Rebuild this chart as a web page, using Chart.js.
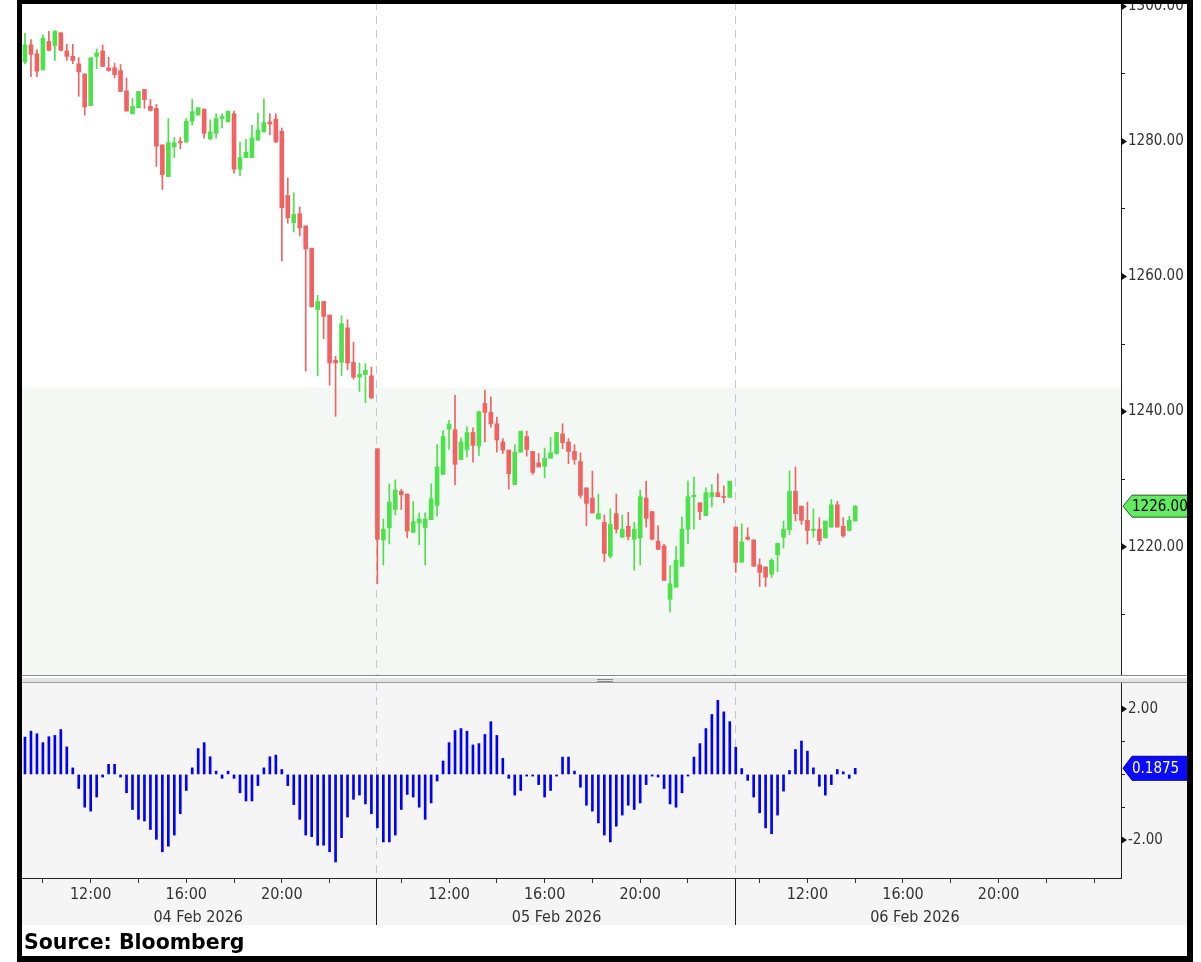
<!DOCTYPE html>
<html>
<head>
<meta charset="utf-8">
<script src="https://cdn.jsdelivr.net/npm/chart.js@4.4.1/dist/chart.umd.min.js"></script>
<style>
  html, body { margin: 0; padding: 0; background: #fff; }
  #wrap { position: relative; width: 1201px; height: 962px; overflow: hidden; background: #fff; }
  #frame { position: absolute; left: 17px; top: 0; width: 1176px; height: 962px; box-sizing: border-box;
           border-left: 5px solid #000; border-top: 4px solid #000; border-right: 6px solid #000; border-bottom: 6px solid #000;
           pointer-events: none; z-index: 5; }
  #c1 { position: absolute; left: 0; top: 0; }
  #c2 { position: absolute; left: 0; top: 678px; }
  #src { position: absolute; left: 24px; top: 930px; font: bold 20.5px 'DejaVu Sans', sans-serif; color: #000; z-index: 6; }
</style>
</head>
<body>
<div id="wrap">
  <canvas id="c1" width="1201" height="678"></canvas>
  <canvas id="c2" width="1201" height="284"></canvas>
  <div id="frame"></div>
  <div id="src">Source: Bloomberg</div>
</div>
<script>
// 15 minute candles, 04-06 Feb 2026
const days = ['04 Feb 2026', '05 Feb 2026', '06 Feb 2026'];
const dayFirstSlot = [1, 0, 0];   // slots after 09:00
const daySlots = [59, 60, 65];
const tickLabels = ['12:00', '16:00', '20:00'];
const dateUnder = '16:30';

const opens = [
  1291.8, 1294.3, 1293.0, 1290.6, 1294.8, 1294.2, 1296.1, 1293.4, 1292.6, 1291.5,
  1290.0, 1285.3, 1292.6, 1293.4, 1290.9, 1290.9, 1290.5, 1287.5, 1284.1, 1285.0,
  1287.7, 1285.2, 1284.9, 1279.5, 1274.8, 1279.2, 1280.0, 1279.9, 1283.0, 1283.9,
  1284.8, 1280.4, 1281.2, 1283.4, 1282.9, 1284.1, 1275.9, 1277.6, 1277.6, 1280.2,
  1281.4, 1282.9, 1283.3, 1281.5, 1272.0, 1268.0, 1269.3, 1267.5, 1264.2, 1255.1,
  1256.3, 1254.3, 1247.6, 1247.3, 1252.4, 1247.3, 1245.1, 1245.5, 1245.3, 1234.5,
  1221.0, 1222.8, 1225.5, 1228.2, 1227.8, 1222.1, 1223.5, 1222.8, 1224.0, 1226.1,
  1230.7, 1237.4, 1237.3, 1232.9, 1234.4, 1236.9, 1234.9, 1241.2, 1239.9, 1238.2,
  1235.5, 1234.3, 1229.2, 1234.0, 1236.3, 1234.1, 1232.4, 1231.9, 1233.1, 1233.8,
  1236.7, 1235.5, 1234.1, 1232.6, 1228.7, 1227.2, 1224.1, 1223.6, 1218.6, 1224.9,
  1221.4, 1223.0, 1221.1, 1221.3, 1227.2, 1225.2, 1220.8, 1220.1, 1212.2, 1214.0,
  1217.1, 1222.6, 1227.4, 1226.5, 1224.6, 1227.4, 1228.0, 1227.4, 1227.3, 1222.9,
  1217.7, 1221.4, 1221.0, 1217.3, 1217.0, 1215.9, 1218.8, 1221.4, 1222.5, 1228.2,
  1226.0, 1223.9, 1222.4, 1222.6, 1221.3, 1222.9, 1226.2, 1223.0, 1222.4, 1223.8
];
const highs = [
  1296.0, 1295.1, 1293.6, 1295.8, 1296.3, 1296.4, 1296.1, 1294.4, 1294.4, 1292.4,
  1290.0, 1292.4, 1293.7, 1294.3, 1292.5, 1291.6, 1291.4, 1289.4, 1286.4, 1287.4,
  1287.7, 1286.2, 1285.5, 1279.5, 1283.4, 1280.6, 1280.6, 1283.4, 1286.2, 1285.0,
  1284.8, 1283.2, 1284.1, 1284.1, 1284.5, 1284.5, 1279.9, 1280.3, 1282.4, 1284.2,
  1286.3, 1284.1, 1284.1, 1282.0, 1274.6, 1272.4, 1270.3, 1267.5, 1264.2, 1257.2,
  1256.3, 1254.3, 1248.2, 1254.2, 1253.6, 1250.3, 1247.2, 1247.1, 1246.6, 1234.5,
  1224.1, 1229.3, 1229.9, 1228.5, 1227.8, 1226.7, 1225.0, 1225.0, 1229.3, 1235.1,
  1237.2, 1238.7, 1242.4, 1236.1, 1237.8, 1237.6, 1240.0, 1243.2, 1242.2, 1239.2,
  1236.0, 1234.3, 1235.1, 1237.1, 1237.1, 1234.1, 1233.8, 1234.6, 1236.2, 1236.9,
  1238.2, 1236.0, 1235.1, 1233.9, 1228.7, 1231.2, 1227.8, 1224.7, 1225.6, 1227.8,
  1224.7, 1225.1, 1223.6, 1228.4, 1229.7, 1225.2, 1223.1, 1220.4, 1217.2, 1220.0,
  1224.4, 1229.7, 1230.3, 1226.5, 1228.7, 1229.2, 1230.8, 1229.0, 1229.7, 1222.9,
  1223.4, 1222.8, 1221.0, 1218.2, 1217.0, 1218.2, 1220.5, 1223.8, 1231.2, 1231.8,
  1226.0, 1226.6, 1225.6, 1224.3, 1223.8, 1227.0, 1226.7, 1224.3, 1224.5, 1226.1
];
const lows = [
  1291.5, 1289.6, 1289.6, 1290.6, 1293.4, 1292.0, 1293.4, 1292.0, 1291.5, 1286.7,
  1283.9, 1285.3, 1290.8, 1291.1, 1290.4, 1289.4, 1287.4, 1284.5, 1284.1, 1285.0,
  1284.9, 1284.5, 1276.3, 1272.9, 1274.8, 1277.6, 1278.9, 1279.9, 1282.4, 1283.9,
  1280.5, 1280.3, 1280.5, 1282.0, 1282.9, 1275.3, 1274.9, 1277.6, 1277.6, 1280.2,
  1281.4, 1281.0, 1279.9, 1262.3, 1267.9, 1266.6, 1266.0, 1246.0, 1255.5, 1245.3,
  1250.8, 1243.9, 1239.3, 1245.3, 1246.2, 1244.8, 1243.0, 1241.3, 1242.0, 1214.5,
  1217.3, 1220.4, 1224.7, 1225.5, 1221.3, 1222.1, 1220.3, 1217.3, 1224.0, 1224.5,
  1230.7, 1234.4, 1229.2, 1232.9, 1233.3, 1232.5, 1233.5, 1235.5, 1237.7, 1234.0,
  1233.8, 1228.5, 1229.2, 1234.0, 1233.4, 1230.7, 1231.8, 1230.2, 1233.1, 1233.7,
  1234.5, 1232.3, 1232.2, 1227.2, 1223.1, 1225.0, 1224.1, 1217.8, 1218.3, 1222.0,
  1221.4, 1221.0, 1216.5, 1217.3, 1222.9, 1221.0, 1219.6, 1215.0, 1210.3, 1214.0,
  1217.1, 1220.4, 1222.6, 1224.0, 1224.6, 1225.9, 1227.4, 1226.5, 1227.3, 1216.2,
  1217.7, 1221.0, 1217.1, 1214.1, 1214.1, 1215.4, 1216.3, 1219.8, 1221.8, 1223.8,
  1223.3, 1220.4, 1221.4, 1220.3, 1221.3, 1222.9, 1222.9, 1221.4, 1222.4, 1223.8
];
const closes = [
  1294.3, 1292.9, 1290.4, 1295.3, 1293.5, 1296.3, 1293.5, 1292.6, 1292.0, 1290.3,
  1285.1, 1292.4, 1293.1, 1291.1, 1290.5, 1289.9, 1287.4, 1284.5, 1285.2, 1287.4,
  1286.2, 1284.6, 1279.3, 1275.1, 1279.8, 1279.8, 1279.8, 1283.0, 1284.4, 1285.0,
  1281.2, 1281.4, 1283.4, 1283.7, 1284.5, 1275.9, 1277.6, 1278.4, 1280.5, 1281.7,
  1282.8, 1282.6, 1279.9, 1270.2, 1268.7, 1269.2, 1267.2, 1264.1, 1255.5, 1256.3,
  1254.1, 1247.2, 1247.2, 1253.0, 1247.2, 1245.1, 1245.5, 1246.1, 1242.0, 1221.1,
  1222.6, 1226.6, 1228.4, 1227.7, 1222.3, 1223.7, 1224.1, 1224.1, 1227.1, 1231.8,
  1236.3, 1238.1, 1232.2, 1235.5, 1236.9, 1235.0, 1240.0, 1239.9, 1238.2, 1235.8,
  1234.3, 1230.8, 1234.0, 1237.1, 1234.4, 1231.0, 1231.8, 1233.1, 1233.9, 1236.9,
  1235.4, 1234.1, 1232.9, 1227.6, 1226.4, 1225.0, 1224.9, 1219.0, 1223.3, 1222.6,
  1222.6, 1221.5, 1222.6, 1227.4, 1224.2, 1221.1, 1219.6, 1215.0, 1214.5, 1218.0,
  1222.6, 1227.4, 1227.6, 1225.2, 1228.0, 1228.0, 1227.4, 1227.3, 1229.7, 1217.7,
  1220.7, 1221.1, 1217.1, 1216.2, 1215.5, 1218.0, 1220.5, 1222.6, 1228.2, 1224.9,
  1223.9, 1222.4, 1222.6, 1220.9, 1223.8, 1226.2, 1222.9, 1221.6, 1223.9, 1226.0
];
// lower panel histogram
const osc = [
  1.14, 1.32, 1.24, 0.97, 1.15, 1.19, 1.37, 0.84, 0.20, -0.43,
  -1.00, -1.12, -0.69, -0.08, 0.31, 0.31, -0.08, -0.56, -1.07, -1.37,
  -1.42, -1.68, -1.98, -2.36, -2.19, -1.85, -1.20, -0.49, 0.20, 0.79,
  0.97, 0.54, 0.10, -0.12, 0.10, -0.12, -0.56, -0.81, -0.81, -0.34,
  0.20, 0.54, 0.59, 0.15, -0.34, -0.92, -1.37, -1.85, -1.90, -2.16,
  -2.16, -2.36, -2.67, -1.93, -1.30, -0.76, -0.63, -0.90, -1.20, -1.63,
  -2.06, -2.06, -1.85, -1.07, -0.61, -0.69, -1.00, -1.37, -0.87, -0.20,
  0.41, 0.97, 1.34, 1.40, 1.32, 0.90, 0.94, 1.22, 1.61, 1.19,
  0.49, -0.12, -0.63, -0.49, -0.05, -0.05, -0.31, -0.69, -0.49, -0.05,
  0.53, 0.53, 0.10, -0.39, -0.94, -1.12, -1.48, -1.85, -2.06, -1.58,
  -1.24, -0.94, -1.07, -0.87, -0.31, -0.05, -0.08, -0.43, -0.90, -1.00,
  -0.56, -0.05, 0.53, 0.94, 1.40, 1.83, 2.26, 1.91, 1.61, 0.83,
  0.18, -0.18, -0.69, -1.17, -1.63, -1.81, -1.24, -0.51, 0.12, 0.76,
  1.02, 0.71, 0.20, -0.36, -0.63, -0.31, 0.15, 0.08, -0.12, 0.1875
];
const priceTicks = [1210, 1220, 1230, 1240, 1250, 1260, 1270, 1280, 1290, 1300];
const priceMajor = [1220, 1240, 1260, 1280, 1300];
const oscTicks = [-2, -1, 0, 1, 2];
const oscMajor = [-2, 2];
const shadeTop = 1243.6;

const FONT = "'DejaVu Sans Condensed', 'Liberation Sans Narrow', 'DejaVu Sans', sans-serif";
const UP = '#4be24b';
const DOWN = '#f26262';
const EDGE = 1190; // inner edge of the black frame

// slot labels
const slotTimes = [];
const slotDays = [];
days.forEach((d, di) => {
  for (let k = dayFirstSlot[di]; k < dayFirstSlot[di] + daySlots[di]; k++) {
    const m = 9 * 60 + 15 * k;
    const h = Math.floor(m / 60) % 24;
    slotTimes.push(String(h).padStart(2, '0') + ':' + String(m % 60).padStart(2, '0'));
    slotDays.push(d);
  }
});
const dayBreaks = [];
for (let i = 1; i < slotDays.length; i++) {
  if (slotDays[i] !== slotDays[i - 1]) dayBreaks.push(i);
}
const isTwoHour = i => {
  const t = slotTimes[i];
  return t && t.endsWith(':00') && parseInt(t, 10) % 2 === 0 && !dayBreaks.includes(i);
};

const candleColor = closes.map((c, i) => (c >= opens[i] ? UP : DOWN));

function triangle(ctx, x, y) {
  ctx.beginPath();
  ctx.moveTo(x, y - 4);
  ctx.lineTo(x + 6, y);
  ctx.lineTo(x, y + 4);
  ctx.closePath();
  ctx.fill();
}

function tag(ctx, x, y, h, fill, stroke, color, text) {
  ctx.beginPath();
  ctx.moveTo(x, y);
  ctx.lineTo(x + 9, y - h / 2);
  ctx.lineTo(EDGE + 2, y - h / 2);
  ctx.lineTo(EDGE + 2, y + h / 2);
  ctx.lineTo(x + 9, y + h / 2);
  ctx.closePath();
  ctx.fillStyle = fill;
  ctx.fill();
  ctx.strokeStyle = stroke;
  ctx.lineWidth = 1;
  ctx.stroke();
  ctx.fillStyle = color;
  ctx.font = '15px ' + FONT;
  ctx.textBaseline = 'middle';
  ctx.textAlign = 'left';
  ctx.fillText(text, x + 9, y + 1);
}

function dashedBreaks(chart) {
  const { ctx, chartArea: a, scales: { x } } = chart;
  ctx.save();
  ctx.strokeStyle = '#c4c7d6';
  ctx.lineWidth = 1;
  ctx.setLineDash([8, 6]);
  dayBreaks.forEach(i => {
    const px = Math.round(x.getPixelForValue(i)) - 0.5;
    ctx.beginPath();
    ctx.moveTo(px, a.top);
    ctx.lineTo(px, a.bottom);
    ctx.stroke();
  });
  ctx.restore();
}

const pricePanel = {
  id: 'pricePanel',
  beforeDraw(chart) {
    const { ctx, chartArea: a, scales: { y } } = chart;
    const ys = y.getPixelForValue(shadeTop);
    ctx.save();
    ctx.fillStyle = '#ffffff';
    ctx.fillRect(0, 0, chart.width, chart.height);
    ctx.fillStyle = '#f4f8f4';
    ctx.fillRect(a.left, ys, a.right - a.left, a.bottom - ys);
    ctx.restore();
  },
  beforeDatasetsDraw: dashedBreaks,
  afterDraw(chart) {
    const { ctx, chartArea: a, scales: { y } } = chart;
    ctx.save();
    ctx.fillStyle = '#111';
    priceMajor.forEach(v => triangle(ctx, a.right, y.getPixelForValue(v)));
    ctx.strokeStyle = '#8c8c8c';
    ctx.beginPath();
    ctx.moveTo(a.left, a.bottom + 0.5);
    ctx.lineTo(EDGE, a.bottom + 0.5);
    ctx.stroke();
    const last = closes[closes.length - 1];
    tag(ctx, a.right + 2, y.getPixelForValue(last), 22, '#62ea62', '#2a5a2a', '#000', last.toFixed(2));
    ctx.restore();
  }
};

const oscPanel = {
  id: 'oscPanel',
  beforeDraw(chart) {
    const { ctx, chartArea: a, scales: { x } } = chart;
    ctx.save();
    ctx.fillStyle = '#ffffff';
    ctx.fillRect(0, 0, chart.width, chart.height);
    ctx.fillStyle = '#f5f5f5';
    ctx.fillRect(a.left, a.top, EDGE - a.left, x.bottom - a.top);
    // splitter between the panels
    ctx.fillStyle = '#e4e4e4';
    ctx.fillRect(a.left, 0, EDGE - a.left, a.top);
    ctx.strokeStyle = '#9a9a9a';
    ctx.beginPath();
    ctx.moveTo(a.left, a.top - 0.5);
    ctx.lineTo(EDGE, a.top - 0.5);
    ctx.stroke();
    ctx.strokeStyle = '#8a8a8a';
    const mid = 605;
    [1.5, 3.5].forEach(yy => {
      ctx.beginPath();
      ctx.moveTo(mid - 8, yy);
      ctx.lineTo(mid + 8, yy);
      ctx.stroke();
    });
    ctx.restore();
  },
  beforeDatasetsDraw: dashedBreaks,
  afterDraw(chart) {
    const { ctx, chartArea: a, scales: { x, y } } = chart;
    ctx.save();
    ctx.fillStyle = '#111';
    oscMajor.forEach(v => triangle(ctx, a.right, y.getPixelForValue(v)));
    ctx.strokeStyle = '#222';
    ctx.lineWidth = 1;
    dayBreaks.forEach(i => {
      const px = Math.round(x.getPixelForValue(i)) - 0.5;
      ctx.beginPath();
      ctx.moveTo(px, x.top);
      ctx.lineTo(px, x.bottom);
      ctx.stroke();
    });
    const last = osc[osc.length - 1];
    tag(ctx, a.right + 2, y.getPixelForValue(last), 24, '#0a0aff', '#0000aa', '#fff', String(last));
    ctx.restore();
  }
};

function yAxis(min, max, ticks, major, width) {
  return {
    position: 'right',
    min: min,
    max: max,
    afterBuildTicks(s) { s.ticks = ticks.map(v => ({ value: v })); },
    afterFit(s) { s.width = width; s.paddingTop = 0; s.paddingBottom = 0; },
    border: { display: true, color: '#222' },
    grid: { drawOnChartArea: false, tickLength: 4, color: '#222' },
    ticks: {
      padding: 3,
      color: '#333',
      font: { family: FONT, size: 15 },
      callback: v => (major.includes(v) ? v.toFixed(2) : '')
    }
  };
}

new Chart(document.getElementById('c1'), {
  type: 'bar',
  data: {
    labels: slotTimes,
    datasets: [
      {
        data: lows.map((l, i) => [l, highs[i]]),
        backgroundColor: candleColor,
        barThickness: 1,
        grouped: false,
        order: 2
      },
      {
        data: opens.map((o, i) => [o, closes[i]]),
        backgroundColor: candleColor,
        barThickness: 4,
        minBarLength: 1,
        grouped: false,
        order: 1
      }
    ]
  },
  options: {
    responsive: false,
    animation: false,
    events: [],
    layout: { padding: { left: 22, top: 2, right: 0, bottom: 3 } },
    plugins: { legend: { display: false }, tooltip: { enabled: false } },
    scales: {
      x: { display: false },
      y: yAxis(1201, 1300.65, priceTicks, priceMajor, 80)
    }
  },
  plugins: [pricePanel]
});

new Chart(document.getElementById('c2'), {
  type: 'bar',
  data: {
    labels: slotTimes,
    datasets: [{
      data: osc,
      backgroundColor: '#0000ff',
      barThickness: 2,
      minBarLength: 1
    }]
  },
  options: {
    responsive: false,
    animation: false,
    events: [],
    layout: { padding: { left: 22, top: 5, right: 0, bottom: 37 } },
    plugins: { legend: { display: false }, tooltip: { enabled: false } },
    scales: {
      x: {
        afterFit(s) { s.height = 47; s.paddingLeft = 0; s.paddingRight = 0; },
        border: { display: true, color: '#222' },
        grid: {
          offset: false,
          drawOnChartArea: false,
          tickLength: 5,
          tickColor: c => (isTwoHour(c.index) ? '#333' : 'rgba(0,0,0,0)')
        },
        ticks: {
          autoSkip: false,
          maxRotation: 0,
          minRotation: 0,
          padding: 1,
          color: '#333',
          font: { family: FONT, size: 16, lineHeight: 1.4 },
          callback: (v, i) => {
            const t = slotTimes[i];
            if (t === dateUnder) return ['', slotDays[i]];
            return tickLabels.includes(t) ? t : '';
          }
        }
      },
      y: yAxis(-3.16, 2.79, oscTicks, oscMajor, 80)
    }
  },
  plugins: [oscPanel]
});
</script>
</body>
</html>
